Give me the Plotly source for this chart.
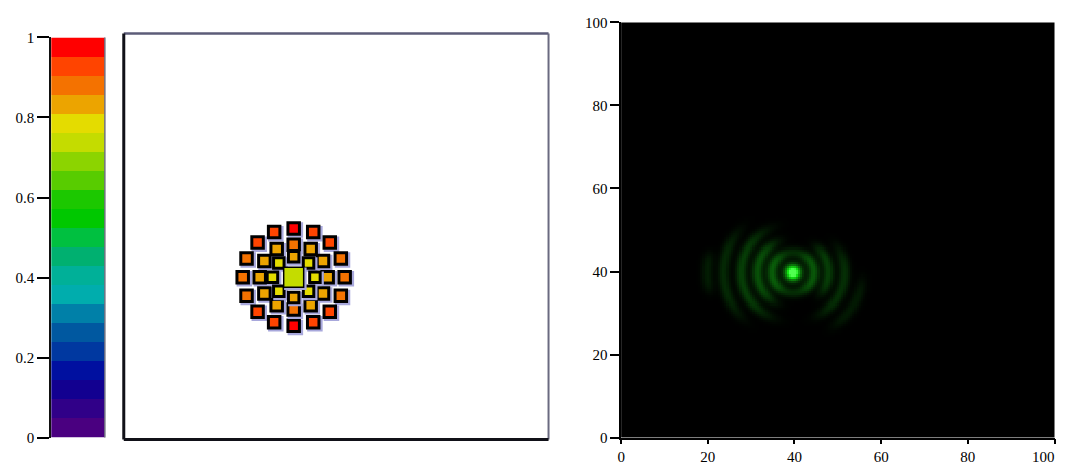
import numpy as np
import plotly.graph_objects as go

# The page shows the figure inside the browser's default 8px body margin and the
# captured page area is scaled onto the 1077x464 picture; the layout is placed in
# page coordinates that map back onto picture pixels (mapping measured on output).
BODY_M = 8
PIC_H, PAGE_H = 464.0, 483.0
SY = PIC_H / PAGE_H
SX, OX = 0.981, 3.6
W, H = 1077, int(PAGE_H - 2 * BODY_M)

# ---------------- data ----------------
# colour bands of the scale, from value 0 (bottom) to value 1 (top)
band_colors = ["#4A0080", "#300088", "#120090", "#0010A0", "#0038A0", "#0058A0", "#0080A8",
               "#00ADAD", "#00B098", "#00B070", "#00C040", "#00C800", "#1CC800", "#58CC00",
               "#8CD400", "#C4DC00", "#E4DC00", "#ECA400", "#F47200", "#FF4400", "#FF0000"]
cbar_tickvals = [0, 0.2, 0.4, 0.6, 0.8, 1]
cbar_ticktext = ["0", "0.2", "0.4", "0.6", "0.8", "1"]
axis_ticks = [0, 20, 40, 60, 80, 100]
axis_ticktext = ["0", "20", "40", "60", "80", "100"]

# left panel: detector elements (outer ring, middle ring, inner ring, centre)
outer_x = [40, 44.6, 48.5, 51.1, 52, 51.1, 48.5, 44.6, 40, 35.4, 31.5, 28.9, 28, 28.9, 31.5, 35.4]
outer_y = [52, 51.1, 48.5, 44.6, 40, 35.4, 31.5, 28.9, 28, 28.9, 31.5, 35.4, 40, 44.6, 48.5, 51.1]
outer_v = [0.97, 0.93, 0.92, 0.89, 0.88, 0.89, 0.92, 0.93, 0.97, 0.93, 0.92, 0.89, 0.88, 0.89, 0.92, 0.93]

middle_x = [40, 44, 46.9, 48, 46.9, 44, 40, 36, 33.1, 32, 33.1, 36]
middle_y = [48, 46.9, 44, 40, 36, 33.1, 32, 33.1, 36, 40, 44, 46.9]
middle_v = [0.88, 0.84, 0.84, 0.83, 0.84, 0.84, 0.88, 0.84, 0.84, 0.83, 0.84, 0.84]

inner_x = [40, 43.5, 45, 43.5, 40, 36.5, 35, 36.5]
inner_y = [45, 43.5, 40, 36.5, 35, 36.5, 40, 43.5]
inner_v = [0.83, 0.79, 0.79, 0.79, 0.83, 0.79, 0.79, 0.79]

centre_x = [40]
centre_y = [40]
centre_v = [0.74]

# right panel: diffraction pattern (central spot + partial rings)
spot_x, spot_y = 39.6, 39.7
spot_peak, spot_width = 1.2, 1.8
arc_radius = [4.8, 4.8, 4.8, 8.2, 8.2, 11.9, 11.9, 16.0, 16.0, 19.7]
arc_center_deg = [0, 180, 0, 178, 5, 182, -15, 182, -30, 180]
arc_halfwidth_deg = [360, 60, 60, 60, 45, 60, 45, 40, 25, 14]
arc_peak = [0.17, 0.2, 0.17, 0.31, 0.24, 0.24, 0.18, 0.16, 0.1, 0.11]
ring_width = 1.3

# ---------------- build ----------------
n_b = len(band_colors)
colorscale = []
for k, c in enumerate(band_colors):
    colorscale.append([k / n_b, c])
    colorscale.append([(k + 1) / n_b, c])

band_edges = np.linspace(0, 1, n_b + 1)
band_mid = [(band_edges[k] + band_edges[k + 1]) / 2 for k in range(n_b)]

fig = go.Figure()

# colour bar drawn as its own heatmap subplot
fig.add_trace(go.Heatmap(
    z=[[v] for v in band_mid], x=[0, 1], y=band_edges,
    colorscale=colorscale, zmin=0, zmax=1, showscale=False,
    xaxis="x", yaxis="y", hoverinfo="skip"))

shadow_dx, shadow_dy = 0.4, -0.4
groups = [(outer_x, outer_y, outer_v, 11.5, 3),
          (middle_x, middle_y, middle_v, 11.5, 3),
          (inner_x, inner_y, inner_v, 10.5, 3),
          (centre_x, centre_y, centre_v, 20, 1.5)]
for gx, gy, gv, size, lw in groups:
    fig.add_trace(go.Scatter(
        x=[v + shadow_dx for v in gx], y=[v + shadow_dy for v in gy], mode="markers",
        marker=dict(symbol="square", size=size + lw + 1, color="#A8A8DC", line=dict(width=0)),
        xaxis="x2", yaxis="y2", hoverinfo="skip", showlegend=False))
    fig.add_trace(go.Scatter(
        x=gx, y=gy, mode="markers",
        marker=dict(symbol="square", size=size, color=gv, colorscale=colorscale,
                    cmin=0, cmax=1, line=dict(color="#000000", width=lw)),
        xaxis="x2", yaxis="y2", showlegend=False))

# diffraction image
gx_ = np.arange(0, 100.5, 0.5)
gy_ = np.arange(0, 100.5, 0.5)
X, Y = np.meshgrid(gx_, gy_)
dX, dY = X - spot_x, Y - spot_y
R = np.hypot(dX, dY)
TH = np.degrees(np.arctan2(dY, dX))
Z = spot_peak * np.exp(-(R / spot_width) ** 2)
for rad, cen, hw, pk in zip(arc_radius, arc_center_deg, arc_halfwidth_deg, arc_peak):
    d = (TH - cen + 180) % 360 - 180
    win = np.exp(-(np.abs(d) / hw) ** 4)
    Z = Z + pk * win * np.exp(-((R - rad) / ring_width) ** 2)
Z = np.clip(Z, 0, 1)

green_scale = [[0, "#000000"], [0.5, "#0C800C"], [0.8, "#10E010"], [1, "#50FF50"]]
fig.add_trace(go.Heatmap(
    z=Z, x=gx_, y=gy_, colorscale=green_scale, zmin=0, zmax=1, showscale=False,
    xaxis="x3", yaxis="y3", hoverinfo="skip"))


def px_x(a, b):
    """picture x pixels -> paper domain"""
    lo = (a - OX) / SX
    hi = min((b - OX) / SX, W - 0.5)
    return [lo / W, hi / W]


def px_y(top, bottom):
    """picture y pixels -> paper domain"""
    t = top / SY - BODY_M
    b = bottom / SY - BODY_M
    return [1 - b / H, 1 - t / H]


tick_font = dict(family="Liberation Serif, Times New Roman, serif", size=15, color="#000000")

# last x label is padded on its right so it stays inside the page
x_ticktext = axis_ticktext[:-1] + [axis_ticktext[-1] + "\u00a0" * 6]

fig.update_layout(
    width=W, height=H, margin=dict(l=0, r=0, t=0, b=0),
    paper_bgcolor="#FFFFFF", plot_bgcolor="#FFFFFF", showlegend=False,
    xaxis=dict(domain=px_x(51, 105), range=[0, 1], showticklabels=False, ticks="",
               showgrid=False, zeroline=False, showline=False, fixedrange=True),
    yaxis=dict(domain=px_y(37, 435), range=[0, 1], tickvals=cbar_tickvals, ticktext=cbar_ticktext,
               ticks="outside", ticklen=12, tickwidth=1.5, tickcolor="#000000",
               showgrid=False, zeroline=False, showline=True, linecolor="#111111", linewidth=2,
               tickfont=tick_font, anchor="x"),
    xaxis2=dict(domain=px_x(124, 551), range=[0, 100], showticklabels=False, ticks="",
                showgrid=False, zeroline=False, showline=False, anchor="y2"),
    yaxis2=dict(domain=px_y(33, 437), range=[0, 100], showticklabels=False, ticks="",
                showgrid=False, zeroline=False, showline=False, anchor="x2"),
    xaxis3=dict(domain=px_x(624, 1062), range=[0, 100], tickvals=axis_ticks, ticktext=x_ticktext,
                ticks="outside", ticklen=5, tickwidth=1.5, tickcolor="#000000",
                ticklabeloverflow="allow",
                showgrid=False, zeroline=False, showline=True, linecolor="#000000", linewidth=1.5,
                tickfont=tick_font, anchor="y3"),
    yaxis3=dict(domain=px_y(22, 435), range=[0, 100], tickvals=axis_ticks, ticktext=axis_ticktext,
                ticks="outside", ticklen=9, tickwidth=1.5, tickcolor="#000000",
                showgrid=False, zeroline=False, showline=True, linecolor="#000000", linewidth=1.5,
                tickfont=tick_font, anchor="x3"),
)

# frame of the colour bar (right edge) and of the left panel
shapes = [
    dict(type="line", xref="x domain", yref="y domain", x0=1, x1=1, y0=0, y1=1,
         line=dict(color="#707080", width=1.5)),
    dict(type="line", xref="x2 domain", yref="y2 domain", x0=0, x1=1, y0=1, y1=1,
         line=dict(color="#5C5C78", width=2.5)),
    dict(type="line", xref="x2 domain", yref="y2 domain", x0=1, x1=1, y0=0, y1=1,
         line=dict(color="#6A6A80", width=2)),
    dict(type="line", xref="x2 domain", yref="y2 domain", x0=0, x1=0, y0=0, y1=1,
         line=dict(color="#111118", width=3)),
    dict(type="line", xref="x2 domain", yref="y2 domain", x0=0, x1=1, y0=0, y1=0,
         line=dict(color="#111118", width=3)),
]
fig.update_layout(shapes=shapes)

fig.write_html("out.html")
